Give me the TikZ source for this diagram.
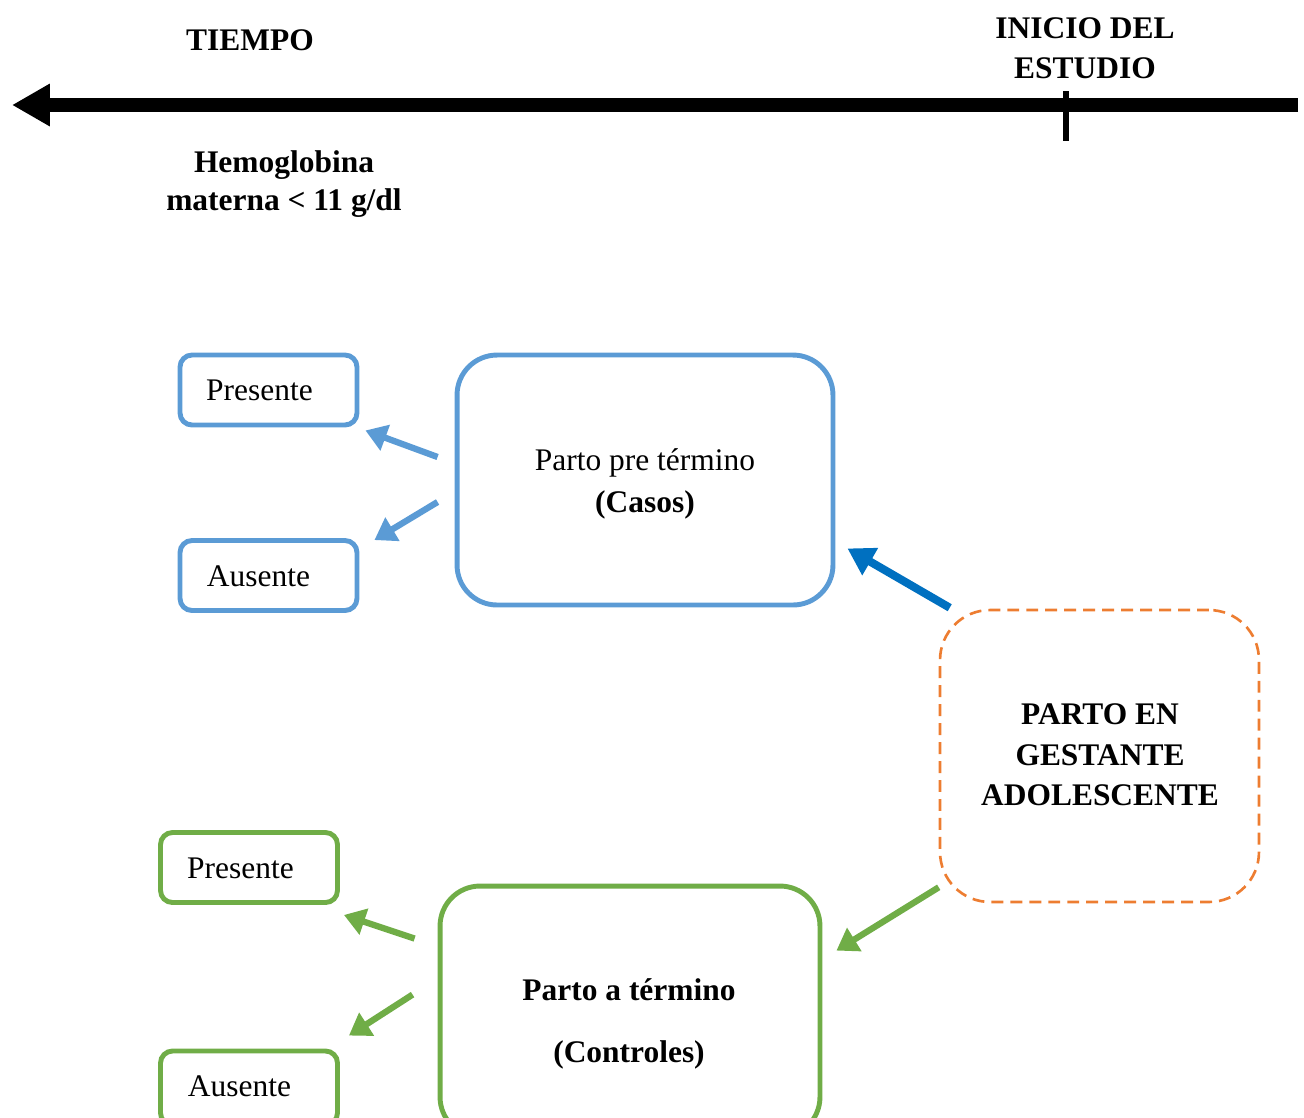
\documentclass[tikz,border=0pt]{standalone}
\usepackage{fontspec}
\setmainfont{Liberation Serif}
\usetikzlibrary{arrows.meta,calc}
\definecolor{cblue}{HTML}{5B9BD5}
\definecolor{cdblue}{HTML}{0070C0}
\definecolor{cgreen}{HTML}{70AD47}
\definecolor{corange}{HTML}{ED7D31}
\tikzset{
  txt/.style={font=\fontsize{17.9}{22.5}\selectfont, align=center, inner sep=0pt},
  btxt/.style={txt, font=\fontsize{17.9}{22.5}\selectfont\bfseries},
  smallbox/.style={draw, rounded corners=0.24cm, line width=2.8pt, minimum width=3.54cm, minimum height=1.4cm, inner sep=0pt},
  bigbox/.style={draw, rounded corners=0.8cm, line width=2.8pt, inner sep=0pt},
  barrow/.style={draw=cblue, line width=3.6pt, -{Triangle[length=12pt,width=15pt]}},
  garrow/.style={draw=cgreen, line width=3.6pt, -{Triangle[length=12pt,width=15pt]}},
  dbarrow/.style={draw=cdblue, line width=4.6pt, -{Triangle[length=15pt,width=17pt]}},
}
\begin{document}
\begin{tikzpicture}[x=0.02cm, y=-0.02cm]
\useasboundingbox (0,0) rectangle (1304,1117);
\clip (0,0) rectangle (1304,1117);

% timeline
\coordinate (tlR) at (1298,105);
\coordinate (tlL) at (12,105);
\draw[line width=7.9pt, -{Triangle[length=21.5pt,width=22.7pt]}] (tlR) -- (tlL);
\coordinate (tickT) at (1066,91);
\coordinate (tickB) at (1066,141);
\draw[line width=3.4pt] (tickT) -- (tickB);

\node[btxt] (tiempo) at (250,40) {TIEMPO};
\node[btxt, font=\fontsize{17.9}{22.7}\selectfont\bfseries] (inicio) at (1085,48) {INICIO DEL\\ESTUDIO};
\node[btxt, font=\fontsize{17.9}{22.1}\selectfont\bfseries] (hemo) at (284,184) {Hemoglobina\\materna < 11 g/dl};

% blue group
\node[smallbox, draw=cblue] (bp) at (268.5,390) {};
\node[txt] (bpt) at (259.5,390) {Presente};
\node[smallbox, draw=cblue] (ba) at (268.5,575.5) {};
\node[txt] (bat) at (258.5,576) {Ausente};
\node[bigbox, draw=cblue, minimum width=7.52cm, minimum height=5cm] (casos) at (645,480) {};
\node[txt, font=\fontsize{17.9}{23.8}\selectfont] (casost) at (645,484) {Parto pre término\\\textbf{(Casos)}};

% orange dashed
\node[draw=corange, rounded corners=1cm, line width=1.5pt, dash pattern=on 6.8pt off 4pt, minimum width=6.38cm, minimum height=5.84cm, inner sep=0pt] (adol) at (1099.5,756) {};
\node[btxt, font=\fontsize{17.9}{23}\selectfont\bfseries] (adolt) at (1100,755) {PARTO EN\\GESTANTE\\ADOLESCENTE};

% green group
\node[smallbox, draw=cgreen] (gp) at (249,867.5) {};
\node[txt] (gpt) at (240.5,868) {Presente};
\node[smallbox, draw=cgreen, minimum height=1.48cm] (ga) at (249,1088) {};
\node[txt] (gat) at (239.5,1086) {Ausente};
\node[bigbox, draw=cgreen, minimum width=7.6cm, minimum height=5.02cm] (ctrl) at (630,1011.5) {};
\node[btxt, font=\fontsize{17.9}{35.1}\selectfont\bfseries] (ctrlt) at (629,1024) {Parto a término\\(Controles)};

% arrows
\draw[barrow] ([shift={(-17,-23)}]casos.west) -- ([shift={(6,3)}]bp.south east);
\draw[barrow] ([shift={(-17,22)}]casos.west) -- ([shift={(15,2)}]ba.north east);
\draw[dbarrow] ([shift={(11,-1)}]adol.north west) -- ([shift={(12,-59)}]casos.south east);
\draw[garrow] ([shift={(0,-16)}]adol.south west) -- ([shift={(14,67)}]ctrl.north east);
\draw[garrow] ([shift={(-23,55)}]ctrl.north west) -- ([shift={(4,10)}]gp.south east);
\draw[garrow] ([shift={(-25,111)}]ctrl.north west) -- ([shift={(9,-13)}]ga.north east);
\end{tikzpicture}
\end{document}
